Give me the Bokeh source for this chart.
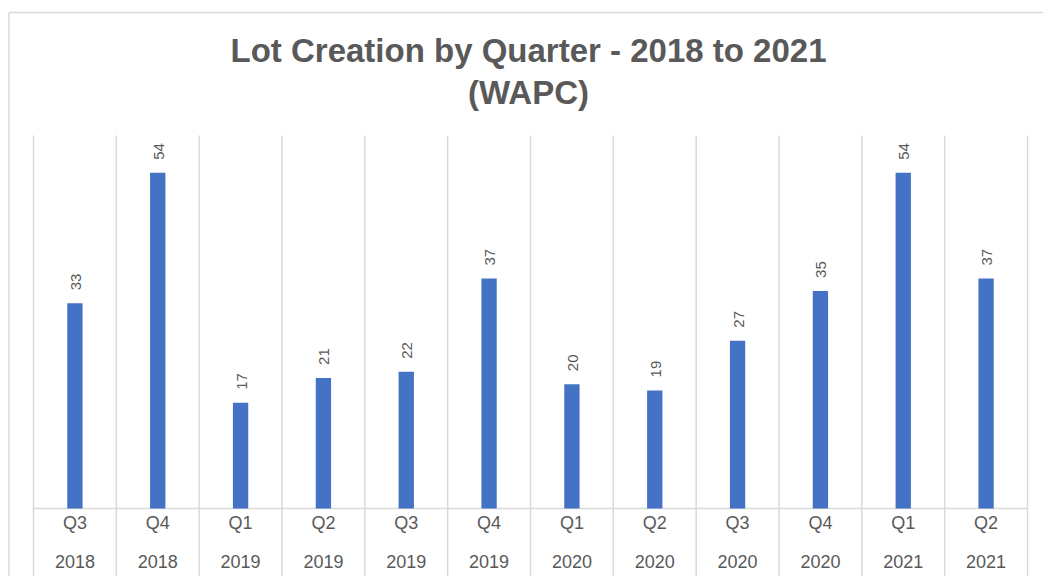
from bokeh.plotting import figure
from bokeh.models import Range1d, ColumnDataSource
from bokeh.core.properties import value
from bokeh.embed import file_html
from bokeh.resources import INLINE
import math

# ---- data ----
quarters = ["Q3", "Q4", "Q1", "Q2", "Q3", "Q4", "Q1", "Q2", "Q3", "Q4", "Q1", "Q2"]
years = ["2018", "2018", "2019", "2019", "2019", "2019", "2020", "2020", "2020", "2020", "2021", "2021"]
lots = [33, 54, 17, 21, 22, 37, 20, 19, 27, 35, 54, 37]
title_lines = ["Lot Creation by Quarter - 2018 to 2021", "(WAPC)"]

n = len(lots)
idx = list(range(n))

W, H = 1043, 576
OFF = 0  # page offset of the figure
px_per_cat = (1027 - 33) / n
left_px = 33 - OFF
baseline_px = 508 - OFF
top_px = 135 - OFF
ymax = 60
px_per_unit = (baseline_px - top_px) / ymax

x0 = -0.5 - left_px / px_per_cat
x1 = x0 + W / px_per_cat
y1 = ymax + top_px / px_per_unit
y0 = -(H - baseline_px) / px_per_unit

def ypage(py):
    return (508 - py) / px_per_unit

def xpage(px):
    return -0.5 + (px - 33) / px_per_cat

p = figure(width=W, height=H, output_backend="svg", toolbar_location=None,
           x_range=Range1d(x0, x1), y_range=Range1d(y0, y1),
           min_border=0, min_border_left=0, min_border_right=0,
           min_border_top=0, min_border_bottom=0)
p.axis.visible = False
p.grid.visible = False
p.outline_line_color = None
p.background_fill_color = "white"
p.border_fill_color = "white"

grid_c = "#d9d9d9"
text_c = "#595959"

# outer chart border (top and left)
yb = ypage(12)
xb = xpage(8.5)
p.segment(x0=[xb], y0=[yb], x1=[x1], y1=[yb], line_color="#d9d9d9", line_width=1.5)
p.segment(x0=[xb], y0=[y0], x1=[xb], y1=[yb], line_color="#d9d9d9", line_width=1.5)

# vertical category separators (through plot and label area)
bounds = [i - 0.5 for i in range(n + 1)]
p.segment(x0=bounds, y0=[y0] * len(bounds), x1=bounds, y1=[ymax] * len(bounds),
          line_color=grid_c, line_width=1.5)
# baseline
p.segment(x0=[-0.5], y0=[0], x1=[n - 0.5], y1=[0], line_color=grid_c, line_width=1.5)

src = ColumnDataSource(dict(x=idx, lots=lots, lab=[str(v) for v in lots],
                            q=quarters, yr=years))

p.vbar(x="x", top="lots", bottom=0, width=0.185, source=src,
       fill_color="#4472C4", line_color=None)

# value labels, rotated
p.text(x="x", y="lots", text="lab", source=src, angle=math.pi / 2,
       text_align="left", text_baseline="middle", y_offset=-13, x_offset=1,
       text_font=value("Liberation Sans"), text_font_size="15px", text_color=text_c)

# category labels
p.text(x="x", y=ypage(522), text="q", source=src,
       text_align="center", text_baseline="middle",
       text_font=value("Liberation Sans"), text_font_size="18px", text_color=text_c)
p.text(x="x", y=ypage(561), text="yr", source=src,
       text_align="center", text_baseline="middle",
       text_font=value("Liberation Sans"), text_font_size="18px", text_color=text_c)

# title
tx = xpage(528)
p.text(x=[tx, tx], y=[ypage(50), ypage(92)], text=title_lines,
       text_align="center", text_baseline="middle",
       text_font=value("Liberation Sans"), text_font_style="bold",
       text_font_size="33px", text_color=text_c)

open("out.html", "w").write(file_html(p, INLINE))
